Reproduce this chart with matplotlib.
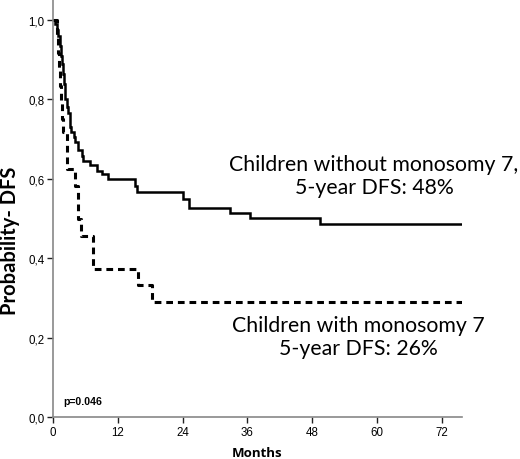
import matplotlib
matplotlib.use("Agg")
import matplotlib.pyplot as plt
import numpy as np

# Kaplan-Meier step data (months, survival after step)
without_t = [0.0, 0.4, 0.7, 1.0, 1.2, 1.4, 1.6, 1.8, 2.0, 2.2, 2.5, 2.8, 3.1, 3.4, 3.8, 4.1,
             4.7, 5.3, 5.6, 6.9, 8.1, 9.0, 10.2, 15.2, 15.5, 24.0, 25.2, 32.8, 36.5, 49.5, 75.8]
without_s = [1.0, 0.99, 0.975, 0.96, 0.935, 0.91, 0.89, 0.865, 0.84, 0.80, 0.78, 0.765, 0.73, 0.718,
             0.705, 0.693, 0.672, 0.659, 0.646, 0.634, 0.621, 0.613, 0.600, 0.583, 0.567, 0.55,
             0.527, 0.514, 0.501, 0.487, 0.487]

with_t = [0.0, 0.7, 0.9, 1.1, 1.3, 1.5, 1.7, 1.9, 2.5, 4.1, 4.6, 5.1, 7.4, 15.8, 18.3, 75.7]
with_s = [1.0, 0.958, 0.917, 0.875, 0.833, 0.792, 0.750, 0.718, 0.625, 0.583, 0.50, 0.457,
          0.374, 0.333, 0.291, 0.291]

xticks = [0, 12, 24, 36, 48, 60, 72]
yticks = [0.0, 0.2, 0.4, 0.6, 0.8, 1.0]
ytick_labels = ["0,0", "0,2", "0,4", "0,6", "0,8", "1,0"]

label_without = "Children without monosomy 7,\n5-year DFS: 48%"
label_with = "Children with monosomy 7\n5-year DFS: 26%"
p_text = "p=0.046"

fig = plt.figure(figsize=(5.2, 4.6), dpi=100)
ax = fig.add_axes([0.102, 0.0907, 0.786, 0.9093])

ax.step(without_t, without_s, where="post", color="black", lw=1.8, solid_joinstyle="miter")
ax.step(with_t, with_s, where="post", color="black", lw=2.2, linestyle=(0, (2.2, 1.6)))

ax.set_xlim(0, 75.7)
ax.set_ylim(0, 1.053)
ax.set_xticks(xticks)
ax.set_xticklabels([str(v) for v in xticks], family="Liberation Sans", fontsize=8.3)
ax.set_yticks(yticks)
ax.set_yticklabels(ytick_labels, family="Liberation Sans", fontsize=8.3)
for s in ["top", "right"]:
    ax.spines[s].set_visible(False)
for s in ["left", "bottom"]:
    ax.spines[s].set_color("#888888")
    ax.spines[s].set_linewidth(1.2)
ax.tick_params(axis="both", direction="out", length=4, width=1.0, color="#222222", pad=2)

ax.set_xlabel("Months", family="Open Sans", fontweight="bold", fontsize=9.5, labelpad=6)
ax.set_ylabel("Probability- DFS", family="Lato", fontweight="bold", fontsize=14.5)
ax.yaxis.set_label_coords(-0.082, 0.424)

fig.text(0.719, 0.616, label_without, ha="center", va="center",
         family="Lato", fontsize=15.3, linespacing=1.15)
fig.text(0.689, 0.266, label_with, ha="center", va="center",
         family="Lato", fontsize=15.3, linespacing=1.15)
ax.text(1.85, 0.04, p_text, family="Liberation Sans", fontweight="bold", fontsize=7.6,
        ha="left", va="center")

fig.savefig("out.png", dpi=100)
